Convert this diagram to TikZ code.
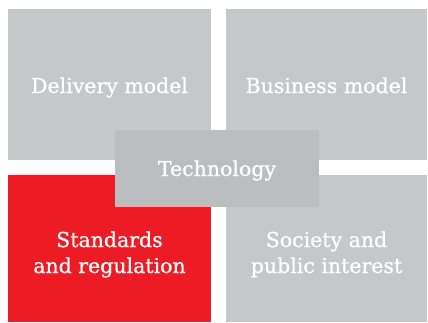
\documentclass[tikz,border=0pt]{standalone}
\usepackage{fontspec}
\setmainfont{DejaVu Serif}
\newfontfamily\tilefont{DejaVu Serif}[FakeBold=0.8]
\usepackage{tikz}

\definecolor{tilegray}{HTML}{C6C7C9}
\definecolor{techgray}{HTML}{BCBDBF}
\definecolor{tilered}{HTML}{ED1C24}

\tikzset{
    tile/.style={fill=tilegray, text=white, inner sep=0pt, outer sep=0pt,
        minimum width=203pt, minimum height=151pt, align=center,
        font=\tilefont\fontsize{20.5}{26}\selectfont,
        text height=19pt, text depth=2pt},
    twoline/.style={text height=50pt, text depth=1pt},
}

\begin{document}
\begin{tikzpicture}[x=1pt,y=1pt]

\useasboundingbox (0,0) rectangle (428,322);

\node [tile] (delivery) at (109.5,237.5) {Delivery model};
\node [tile, minimum width=201pt] (business) at (326.5,237.5) {Business model};
\node [tile, twoline, fill=tilered, minimum height=147pt] (standards) at (109.5,73.5) {Standards\\and regulation};
\node [tile, twoline, minimum width=201pt, minimum height=147pt] (society) at (326.5,73.5) {Society and\\public interest};

% centre tile sits over the four
\node [tile, fill=techgray, minimum width=204pt, minimum height=77pt, text height=17pt] (technology) at (217,153.5) {Technology};

\end{tikzpicture}
\end{document}
